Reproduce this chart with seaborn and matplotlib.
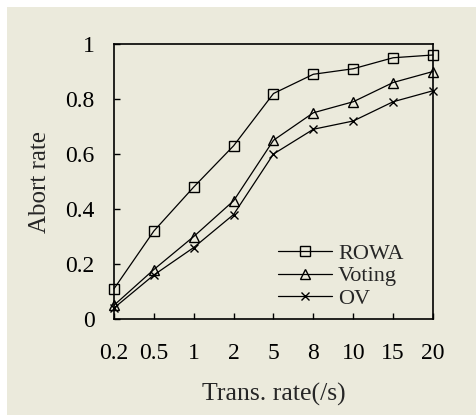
import matplotlib
matplotlib.use("Agg")
import matplotlib.pyplot as plt
import matplotlib.patches as mpatches
import seaborn as sns
import pandas as pd

# data
rates = ["0.2", "0.5", "1", "2", "5", "8", "10", "15", "20"]
rowa = [0.11, 0.32, 0.48, 0.63, 0.82, 0.89, 0.91, 0.95, 0.96]
voting = [0.05, 0.18, 0.30, 0.43, 0.65, 0.75, 0.79, 0.86, 0.90]
ov = [0.04, 0.16, 0.26, 0.38, 0.60, 0.69, 0.72, 0.79, 0.83]
series_names = ["ROWA", "Voting", "OV"]
series_markers = ["s", "^", "x"]
marker_sizes = [7, 7, 5.5]

bg = "#EBEADC"

sns.set_theme(style="white")
plt.rcParams["font.family"] = ["Liberation Serif", "DejaVu Serif"]

fig = plt.figure(figsize=(4.77, 4.15), dpi=100, facecolor="white")
# beige panel (white strip on the left and top like the original)
fig.patches.append(mpatches.Rectangle((7 / 477, 0), 1, 1 - 7 / 415, transform=fig.transFigure,
                                      facecolor=bg, edgecolor="none", zorder=-10))
ax = fig.add_axes([114 / 477, 1 - 319 / 415, 319 / 477, 275 / 415])
ax.set_facecolor(bg)

pos = list(range(len(rates)))
for name, vals, m, ms in zip(series_names, [rowa, voting, ov], series_markers, marker_sizes):
    d = pd.DataFrame({"pos": pos, "abort": vals})
    sns.lineplot(data=d, x="pos", y="abort", color="black", marker=m,
                 markersize=ms, markerfacecolor="none", markeredgecolor="black",
                 markeredgewidth=1, linewidth=0.9, ax=ax, label=name, clip_on=False)

ax.set_xlim(0, len(rates) - 1)
ax.set_ylim(0, 1)
ax.set_xticks(pos)
ax.set_xticklabels(rates)
ax.set_yticks([0, 0.2, 0.4, 0.6, 0.8, 1])
ax.set_yticklabels(["0", "0.2", "0.4", "0.6", "0.8", "1"])
ax.tick_params(axis="both", direction="in", length=4, width=1, colors="black",
               labelsize=17, bottom=True, left=True)
ax.tick_params(axis="x", pad=17)
ax.tick_params(axis="y", pad=14)
for s in ax.spines.values():
    s.set_color("black")
    s.set_linewidth(1.2)

ax.set_xlabel("Trans. rate(/s)", fontsize=18.5, labelpad=14)
ax.set_ylabel("Abort rate", fontsize=18, labelpad=10)

# legend without frame
ax.legend(loc="center left", bbox_to_anchor=(0.514, 0.156),
          frameon=False, fontsize=16, handlelength=2.45, handletextpad=0.25,
          labelspacing=0.1, borderpad=0, borderaxespad=0)

fig.savefig("out.png", dpi=100, facecolor="white")
